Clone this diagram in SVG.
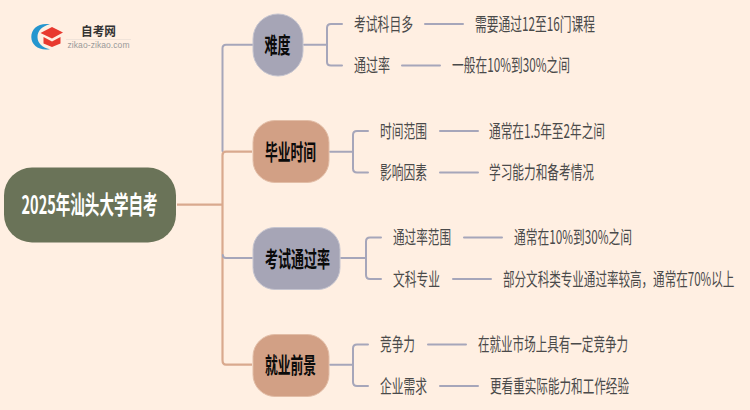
<svg xmlns="http://www.w3.org/2000/svg" width="750" height="410" viewBox="0 0 750 410">
<style>
text{font-family:"Noto Sans CJK SC","Liberation Sans",sans-serif}
.h{font-weight:700;font-size:22px;fill:#0a0a0a}
.l{font-size:18.500px;fill:#4a4a4a}
.a{fill:none;stroke:#a6a6ba;stroke-width:2;stroke-linecap:round}
.t{fill:none;stroke:#d9a98e;stroke-width:2.200}
.ng{fill:#a6a5b6;stroke:#c5c4cf}
.nt{fill:#d2a085;stroke:#e2bda6}
</style>
<rect width="750" height="410" fill="#ffefe2"/>
<g id="logo">
<path d="M50 24.200C38 22.500 31.300 29 31.300 37C31.300 45 39 51 50 49.200C42 47.500 37.500 43 37.500 37C37.500 31 42 26 50 24.200Z" fill="#2596cf"/>
<path d="M40.500 33L52 27L63 32.500L52 38.500Z" fill="#e8392f"/>
<path d="M43.500 37L52 41.500L60.500 37V43.500L52 47L43.500 43.500Z" fill="#e8392f"/>
<text x="81" y="35.500" font-size="12.500" font-weight="700" fill="#333" textLength="35" lengthAdjust="spacingAndGlyphs">自考网</text>
<rect x="66" y="39" width="65" height="0.7" fill="#eadfd6"/>
<text x="67.500" y="48" font-size="8.500" fill="#999" style="font-family:'Liberation Sans',sans-serif" textLength="62" lengthAdjust="spacing">zikao-zikao.com</text>
</g>
<g id="connectors">
<path class="a" d="M253 44.700H226Q222.500 44.700 222.500 48.200V151"/>
<path class="t" d="M177 204.700H222"/>
<path class="t" d="M252 151.700H226Q222.500 151.700 222.500 155.200V360Q222.500 364.700 226 364.700H252"/>
<path class="a" d="M252 258H226Q222.800 258 222.800 255"/>
<path class="a" d="M304 44.700H327M342 24H331Q327 24 327 28V62Q327 65.500 331 65.500H342M425 24H463M402 65.500H440"/>
<path class="a" d="M330 151.700H353M368 131H357Q353 131 353 135V168.500Q353 172.500 357 172.500H368M440 131H478M440 172.500H478"/>
<path class="a" d="M341 258H366M381 237.500H370Q366 237.500 366 241.500V275Q366 279 370 279H381M464 237.500H502M453 279H491"/>
<path class="a" d="M330 364.700H353M368 344.500H357Q353 344.500 353 348.500V382Q353 386 357 386H368M428 344.500H466M440 386H478"/>
</g>
<g id="root"><rect x="4" y="167.500" width="172" height="75" rx="28" fill="#6a7358"/>
<text x="21.500" y="213.500" font-size="25" font-weight="700" fill="#fff" textLength="136" lengthAdjust="spacingAndGlyphs">2025年汕头大学自考</text></g>
<g id="n1"><rect class="ng" x="253" y="14" width="50" height="62" rx="25"/><text class="h" x="264.500" y="53" textLength="26" lengthAdjust="spacingAndGlyphs">难度</text></g>
<g id="n2"><rect class="nt" x="253" y="120.500" width="76" height="62" rx="22"/><text class="h" x="265" y="159.500" textLength="51" lengthAdjust="spacingAndGlyphs">毕业时间</text></g>
<g id="n3"><rect class="ng" x="253" y="227.500" width="87" height="62" rx="22"/><text class="h" x="265" y="266.500" textLength="65" lengthAdjust="spacingAndGlyphs">考试通过率</text></g>
<g id="n4"><rect class="nt" x="253" y="334.500" width="76" height="62" rx="22"/><text class="h" x="265" y="372.500" textLength="51" lengthAdjust="spacingAndGlyphs">就业前景</text></g>
<g id="l11"><text class="l" x="354" y="30.500" textLength="59" lengthAdjust="spacingAndGlyphs">考试科目多</text></g>
<g id="l12"><text class="l" x="475" y="30.500" textLength="120" lengthAdjust="spacingAndGlyphs">需要通过12至16门课程</text></g>
<g id="l13"><text class="l" x="354" y="72" textLength="36" lengthAdjust="spacingAndGlyphs">通过率</text></g>
<g id="l14"><text class="l" x="452" y="72" textLength="118" lengthAdjust="spacingAndGlyphs">一般在10%到30%之间</text></g>
<g id="l21"><text class="l" x="380" y="137.500" textLength="47" lengthAdjust="spacingAndGlyphs">时间范围</text></g>
<g id="l22"><text class="l" x="489" y="137.500" textLength="116" lengthAdjust="spacingAndGlyphs">通常在1.5年至2年之间</text></g>
<g id="l23"><text class="l" x="380" y="179" textLength="47" lengthAdjust="spacingAndGlyphs">影响因素</text></g>
<g id="l24"><text class="l" x="489" y="179" textLength="105" lengthAdjust="spacingAndGlyphs">学习能力和备考情况</text></g>
<g id="l31"><text class="l" x="393" y="244" textLength="58" lengthAdjust="spacingAndGlyphs">通过率范围</text></g>
<g id="l32"><text class="l" x="514" y="244" textLength="118" lengthAdjust="spacingAndGlyphs">通常在10%到30%之间</text></g>
<g id="l33"><text class="l" x="393" y="285.500" textLength="47" lengthAdjust="spacingAndGlyphs">文科专业</text></g>
<g id="l34"><text class="l" transform="translate(503 285.500) scale(.625 1)">部分文科类专业通过率较高，通常在70%以上</text></g>
<g id="l41"><text class="l" x="380" y="351" textLength="35" lengthAdjust="spacingAndGlyphs">竞争力</text></g>
<g id="l42"><text class="l" x="478" y="351" textLength="150" lengthAdjust="spacingAndGlyphs">在就业市场上具有一定竞争力</text></g>
<g id="l43"><text class="l" x="380" y="392.500" textLength="47" lengthAdjust="spacingAndGlyphs">企业需求</text></g>
<g id="l44"><text class="l" x="490" y="392.500" textLength="139" lengthAdjust="spacingAndGlyphs">更看重实际能力和工作经验</text></g>
</svg>
